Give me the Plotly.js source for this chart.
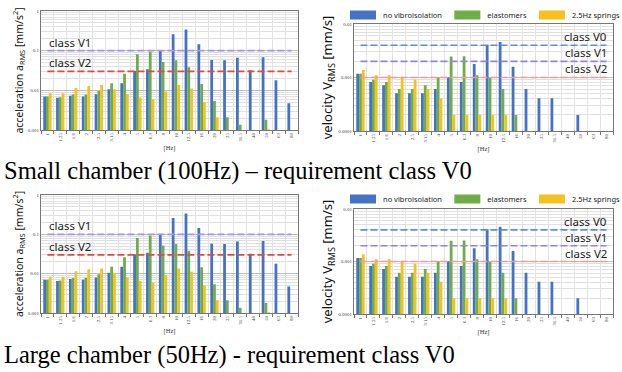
<!DOCTYPE html>
<html><head><meta charset="utf-8">
<script src="https://cdn.plot.ly/plotly-3.0.1.min.js"></script>
<style>html,body{margin:0;padding:0;background:#fff}#chart{width:622px;height:372px}</style>
</head><body><div id="chart"></div>
<script>
const categories = ['1','1.25','1.6','2','2.5','3.15','4','5','6.3','8','10','12.5','16','20','25','31.5','40','50','63','80'];
const seriesNames = ['no vibroisolation','elastomers','2.5Hz springs'];

// Small chamber (100Hz)
const smallAccelNoIso   = [0.007,0.0065,0.0073,0.007,0.008,0.0106,0.015,0.031,0.034,0.1,0.26,0.34,0.145,0.058,0.057,0.066,0.032,0.068,0.018,0.0047];
const smallAccelElast   = [0.007,0.0067,0.0078,0.0079,0.0096,0.015,0.026,0.081,0.094,0.052,0.057,0.038,0.0145,0.0054,0.0021,0.00135,null,0.0018,null,null];
const smallAccelSprings = [0.0084,0.0084,0.0115,0.0129,0.0136,0.0106,0.0081,0.0066,0.006,0.0093,0.0136,0.0112,0.005,0.0021,null,null,null,0.00105,null,null];
const smallVelNoIso     = [0.00117,0.00082,0.00072,0.00051,0.00051,0.00051,0.00061,0.001,0.00082,0.00178,0.0041,0.0046,0.00158,0.00061,0.00041,0.00041,null,0.0002,null,null];
const smallVelElast     = [0.00117,0.00091,0.00082,0.00061,0.00061,0.00072,0.001,0.00248,0.0025,0.0011,0.00098,0.00061,0.0002,null,null,null,null,null,null,null];
const smallVelSprings   = [0.00138,0.0011,0.0011,0.001,0.00091,0.00061,0.00041,0.0002,0.0002,0.0002,0.0002,0.0002,null,null,null,null,null,null,null,null];

// Large chamber (50Hz)
const largeAccelNoIso   = [0.007,0.0065,0.0073,0.007,0.008,0.0106,0.015,0.031,0.034,0.1,0.26,0.34,0.145,0.058,0.057,0.066,0.032,0.068,0.018,0.0047];
const largeAccelElast   = [0.007,0.0067,0.0078,0.0079,0.0096,0.015,0.026,0.081,0.094,0.052,0.057,0.038,0.0145,0.0054,0.0021,0.00135,null,0.0018,null,null];
const largeAccelSprings = [0.0084,0.0084,0.0115,0.0129,0.0136,0.0106,0.0081,0.0066,0.006,0.0093,0.0136,0.0112,0.005,0.0021,null,null,null,0.00105,null,null];
const largeVelNoIso     = [0.00117,0.00082,0.00072,0.00051,0.00051,0.00051,0.00061,0.001,0.00082,0.00178,0.0041,0.0046,0.00158,0.00061,0.00041,0.00041,null,0.0002,null,null];
const largeVelElast     = [0.00117,0.00091,0.00082,0.00061,0.00061,0.00072,0.001,0.00248,0.0025,0.0011,0.00098,0.00061,0.0002,null,null,null,null,null,null,null];
const largeVelSprings   = [0.00138,0.0011,0.0011,0.001,0.00091,0.00061,0.00041,0.0002,0.0002,0.0002,0.0002,0.0002,null,null,null,null,null,null,null,null];

const accelClassNames  = ['class V1','class V2'];
const accelClassValues = [0.1, 0.03];
const velClassNames    = ['class V0','class V1','class V2'];
const velClassValues   = [0.004, 0.002, 0.001];

const accelTickVals = [0.001,0.01,0.1,1];
const accelTickText = ['0.001','0.01','0.1','1'];
const velTickVals   = [0.0001,0.001,0.01];
const velTickText   = ['0.0001','0.001','0.01'];

const captions = ['Small chamber (100Hz) \u2013 requirement class V0','Large chamber (50Hz) - requirement class V0'];

const barColors = ['#4472C4','#70AD47','#F5C11F'];
const accelLineColors = ['#A595E3','#E5483D'];
const velLineColors = ['#5B8FE0','#9483D6','#F29A97'];

const W = 622, H = 372;
function px(x){return x/W;}
function py(y){return 1 - y/H;}

const traces = [];
const annotations = [];

function addBars(xa, ya, values, legendId){
  values.forEach((v,i)=>{
    traces.push({type:'bar', x:categories, y:v, name:seriesNames[i], xaxis:xa, yaxis:ya,
      marker:{color:barColors[i], line:{width:0}}, showlegend: !!legendId, legend: legendId || 'legend',
      hoverinfo:'x+y+name'});
  });
}
function addClassLines(xa, ya, names, vals, colors, align){
  names.forEach((n,i)=>{
    traces.push({type:'scatter', mode:'lines', x:[categories[0], categories[categories.length-1]], y:[vals[i], vals[i]],
      xaxis:xa, yaxis:ya, line:{color:colors[i], width:1.6, dash:'7px,3px'}, showlegend:false, hoverinfo:'skip'});
    annotations.push({text:n, xref: xa+' domain', yref: ya, x: align==='left'?0.025:0.985,
      y: Math.log10(vals[i]), xanchor: align, yanchor:'bottom', showarrow:false, yshift:-1,
      font:{family:'Noto Sans, sans-serif', size:11.5, color:'#222'}});
  });
}

addBars('x','y',[smallAccelNoIso,smallAccelElast,smallAccelSprings], null);
addClassLines('x','y',accelClassNames,accelClassValues,accelLineColors,'left');
addBars('x2','y2',[smallVelNoIso,smallVelElast,smallVelSprings], 'legend');
addClassLines('x2','y2',velClassNames,velClassValues,velLineColors,'right');
addBars('x3','y3',[largeAccelNoIso,largeAccelElast,largeAccelSprings], null);
addClassLines('x3','y3',accelClassNames,accelClassValues,accelLineColors,'left');
addBars('x4','y4',[largeVelNoIso,largeVelElast,largeVelSprings], 'legend2');
addClassLines('x4','y4',velClassNames,velClassValues,velLineColors,'right');

const tickFont = {family:'Liberation Serif, serif', size:5, color:'#444'};
function xAxis(x0,x1,anchor){
  return {domain:[px(x0),px(x1)], anchor:anchor, type:'category', tickmode:'linear', dtick:1, tickangle:-90, tickfont:tickFont,
    tickson:'boundaries', ticks:'outside', ticklen:3, tickcolor:'#777', showgrid:true, gridcolor:'#e3e3e3', gridwidth:1,
    showline:true, linecolor:'#777', linewidth:1, mirror:true, automargin:false,
    title:{text:'[Hz]', font:{family:'Liberation Serif, serif', size:6.5, color:'#333'}, standoff:4}};
}
function yAxis(y0,y1,anchor,tv,tt,title,tsize,stand){
  return {domain:[py(y1),py(y0)], anchor:anchor, type:'log', range:[Math.log10(tv[0]),Math.log10(tv[tv.length-1])],
    tickvals:tv, ticktext:tt, tickfont:tickFont, ticks:'', showgrid:true, gridcolor:'#bdbdbd', gridwidth:1,
    minor:{showgrid:true, gridcolor:'#e0e0e0', dtick:'D1', ticks:''},
    showline:true, linecolor:'#777', linewidth:1, mirror:true, zeroline:false, automargin:false,
    title:{text:title, font:{family:'Noto Sans, sans-serif', size:tsize, color:'#111'}, standoff:stand}};
}

const accelTitle = 'acceleration a<sub>RMS</sub> [mm/s<sup>2</sup>]';
const velTitle = 'velocity V<sub>RMS</sub> [mm/s]';

captions.forEach((c,i)=>{
  annotations.push({text:c, xref:'paper', yref:'paper', x:px(2), y: i===0?py(171):py(355), xanchor:'left', yanchor:'middle',
    showarrow:false, font:{family:'Liberation Serif, serif', size:24.5, color:'#000'}});
});

const legendFont = {family:'Noto Sans, sans-serif', size:7.5, color:'#222'};
const layout = {
  width:W, height:H, margin:{l:0,r:0,t:0,b:0,autoexpand:false}, paper_bgcolor:'#fff', plot_bgcolor:'#fff',
  barmode:'group', bargap:0.35, bargroupgap:0,
  xaxis: xAxis(41,298,'y'),
  yaxis: yAxis(11,130,'x',accelTickVals,accelTickText,accelTitle,10.5,2),
  xaxis2: xAxis(354,613,'y2'),
  yaxis2: yAxis(24,131,'x2',velTickVals,velTickText,velTitle,13,2),
  xaxis3: xAxis(41,298,'y3'),
  yaxis3: yAxis(195,313,'x3',accelTickVals,accelTickText,accelTitle,10.5,2),
  xaxis4: xAxis(354,613,'y4'),
  yaxis4: yAxis(209,314,'x4',velTickVals,velTickText,velTitle,13,2),
  legend:{orientation:'h', x:px(343), y:py(15), xanchor:'left', yanchor:'middle', font:legendFont, bgcolor:'rgba(0,0,0,0)', itemclick:false},
  legend2:{orientation:'h', x:px(343), y:py(199), xanchor:'left', yanchor:'middle', font:legendFont, bgcolor:'rgba(0,0,0,0)', itemclick:false},
  annotations: annotations,
  showlegend:true
};
Plotly.newPlot('chart', traces, layout, {displayModeBar:false, staticPlot:true}).then(()=>{
  // widen legend swatches to match the reference's wide rectangles
  document.querySelectorAll('.legendpoints path').forEach(p=>{ p.setAttribute('d','M13,4.5H-13V-4.5H13Z'); });
});
</script></body></html>
